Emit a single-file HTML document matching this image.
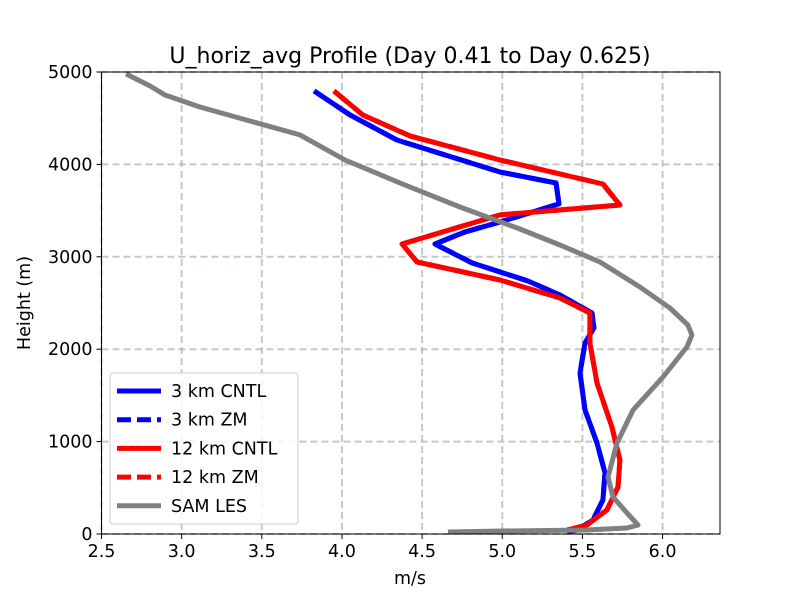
<!DOCTYPE html>
<html><head><meta charset="utf-8"><style>
body{margin:0;background:#fff;font-family:"Liberation Sans","DejaVu Sans",sans-serif;}
svg text{font-family:"DejaVu Sans","Liberation Sans",sans-serif;}
</style></head><body>
<svg id="chart" width="800" height="600" xmlns="http://www.w3.org/2000/svg">
<rect width="800" height="600" fill="#fff"/>
<g id="grid"></g>
<g id="series"></g>
<rect x="101.5" y="72" width="618.5" height="462" fill="none" stroke="#000" stroke-width="1"/>
<g id="ticks"></g>
<text x="410" y="63" text-anchor="middle" font-size="22">U_horiz_avg Profile (Day 0.41 to Day 0.625)</text>
<text x="410" y="584" text-anchor="middle" font-size="17.5">m/s</text>
<text x="30" y="303" text-anchor="middle" font-size="17.5" transform="rotate(-90 30 303)">Height (m)</text>
<g id="legend">
<rect x="110" y="373" width="188" height="151" rx="3" fill="#fff" fill-opacity="0.8" stroke="#ccc"/>
</g>
</svg>
<script>
const xTicks=[2.5,3.0,3.5,4.0,4.5,5.0,5.5,6.0];
const xTickLabels=["2.5","3.0","3.5","4.0","4.5","5.0","5.5","6.0"];
const yTicks=[0,1000,2000,3000,4000,5000];
const yTickLabels=["0","1000","2000","3000","4000","5000"];
const cntl3U=[3.826,4.051,4.343,4.986,5.335,5.354,4.986,4.767,4.580,4.811,5.160,5.360,5.560,5.572,5.516,5.485,5.516,5.591,5.641,5.628,5.566,5.466,5.404];
const cntl3H=[4795,4535,4264,3918,3799,3572,3377,3268,3139,2934,2738,2587,2392,2230,2067,1742,1342,985,660,368,152,43,22];
const zm3U=cntl3U.slice();
const zm3H=cntl3H.slice();
const cntl12U=[3.950,4.131,4.424,4.986,5.628,5.734,4.986,4.375,4.468,4.986,5.360,5.547,5.547,5.591,5.684,5.734,5.722,5.653,5.528,5.404];
const cntl12H=[4795,4535,4308,4048,3788,3561,3453,3139,2944,2749,2554,2392,2067,1634,1158,801,509,260,97,43];
const zm12U=cntl12U.slice();
const zm12H=cntl12H.slice();
const samU=[2.653,2.803,2.896,3.114,3.426,3.738,4.019,4.362,4.736,5.110,5.360,5.610,5.859,6.046,6.158,6.183,6.152,6.003,5.816,5.716,5.660,5.691,5.778,5.847,5.778,5.528,5.004,4.661];
const samH=[4979,4849,4751,4621,4470,4319,4048,3799,3539,3301,3128,2944,2673,2446,2262,2154,2024,1699,1342,985,617,400,227,97,65,43,32,22];

const NS="http://www.w3.org/2000/svg";
const X0=101.5,X1=720,Y0=534,Y1=72,XMIN=2.5;
function xs(v){return X0+(v-XMIN)*160.3;}
function ys(h){return Y0-(h/5000)*(Y0-Y1);}
function mk(tag,attrs,parent){const e=document.createElementNS(NS,tag);for(const k in attrs)e.setAttribute(k,attrs[k]);parent.appendChild(e);return e;}
const grid=document.getElementById('grid'),ticks=document.getElementById('ticks'),ser=document.getElementById('series'),leg=document.getElementById('legend');
xTicks.forEach((t,i)=>{
  const x=xs(t);
  const g=mk('line',{x1:x,x2:x,y1:Y1,y2:Y0,stroke:'#a9b5b0','stroke-opacity':0.7,'stroke-width':2,'stroke-dasharray':'7,4'},grid);
  
  
  mk('line',{x1:x,x2:x,y1:Y0,y2:Y0+5,stroke:'#000'},ticks);
  const tx=mk('text',{x:x,y:Y0+23,'text-anchor':'middle','font-size':17.5},ticks);
  tx.textContent=xTickLabels[i];
  
  
});
yTicks.forEach((t,i)=>{
  const y=ys(t);
  const g=mk('line',{x1:X0,x2:X1,y1:y,y2:y,stroke:'#a9b5b0','stroke-opacity':0.7,'stroke-width':2,'stroke-dasharray':'7,4'},grid);
  
  
  mk('line',{x1:X0-5,x2:X0,y1:y,y2:y,stroke:'#000'},ticks);
  const tx=mk('text',{x:X0-9,y:y+6,'text-anchor':'end','font-size':17.5},ticks);
  tx.textContent=yTickLabels[i];
  
  
});
function line(U,H,color,dash,name){
  const pts=U.map((u,i)=>xs(u).toFixed(1)+','+ys(H[i]).toFixed(1)).join(' ');
  const p=mk('polyline',{points:pts,fill:'none',stroke:color,'stroke-width':5,'stroke-linejoin':'round'},ser);
  if(dash)p.setAttribute('stroke-dasharray',dash);
  
  
}
line(zm3U,zm3H,'#0000ff','18,8','line-3km-zm');
line(cntl3U,cntl3H,'#0000ff',null,'line-3km-cntl');
line(zm12U,zm12H,'#ff0000','18,8','line-12km-zm');
line(cntl12U,cntl12H,'#ff0000',null,'line-12km-cntl');
line(samU,samH,'#808080',null,'line-sam-les');
const legendItems=[["3 km CNTL","#0000ff",null],["3 km ZM","#0000ff","14,6"],["12 km CNTL","#ff0000",null],["12 km ZM","#ff0000","14,6"],["SAM LES","#808080",null]];
legendItems.forEach((it,i)=>{
  const y=391+i*28.7;
  const l=mk('line',{x1:117,x2:161,y1:y,y2:y,stroke:it[1],'stroke-width':5},leg);
  if(it[2])l.setAttribute('stroke-dasharray',it[2]);
  
  
  const t=mk('text',{x:171,y:y+6,'font-size':17.5},leg);
  t.textContent=it[0];
  
  
});
</script>
</body></html>
